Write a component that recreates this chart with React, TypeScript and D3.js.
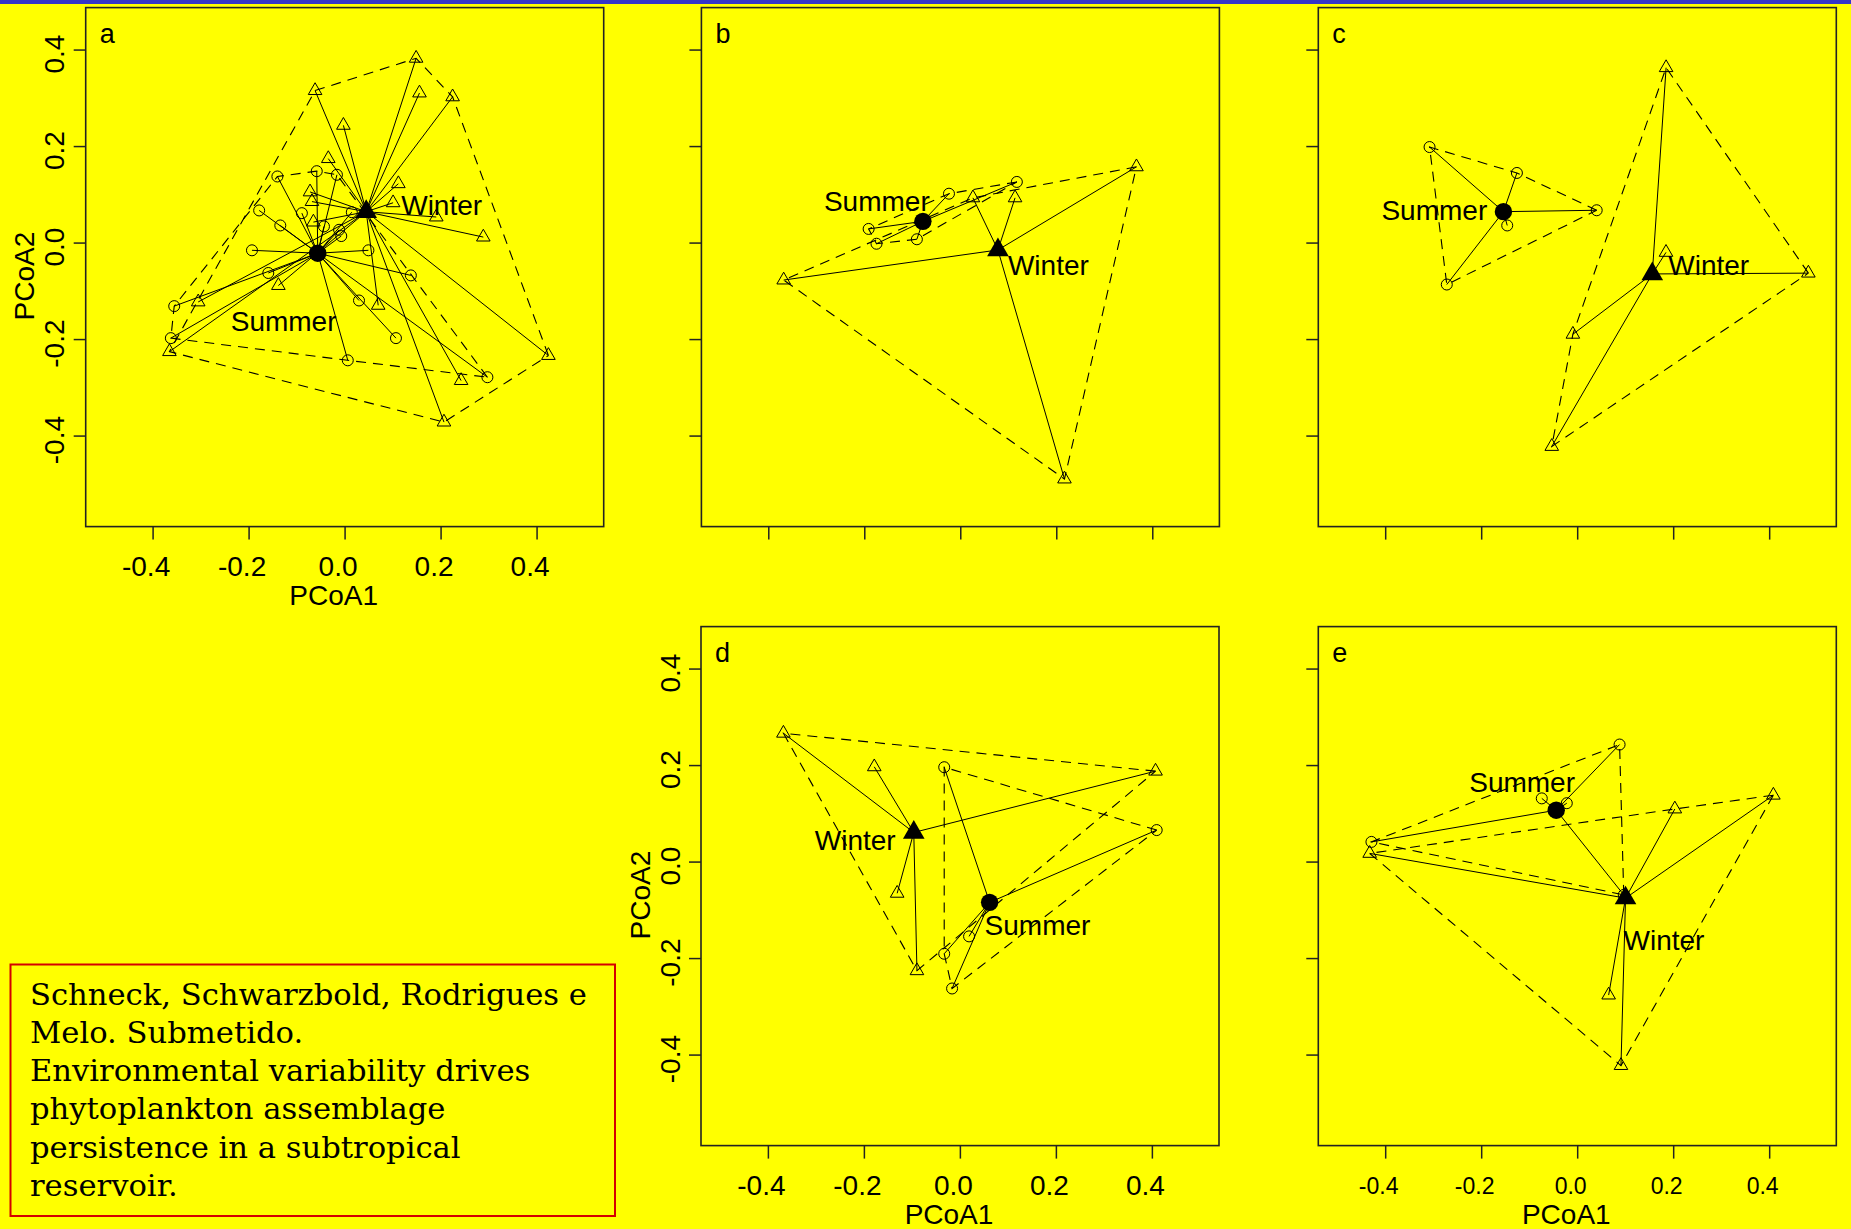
import React, { useEffect } from 'react';
import * as d3 from 'd3';

type Pt = [number, number];

// ---------- shared axis data ----------
const TICKS = [-0.4, -0.2, 0, 0.2, 0.4];
const TICK_LABELS = ['-0.4', '-0.2', '0.0', '0.2', '0.4'];
const GROUP_LABELS = ['Summer', 'Winter'];
const X_TITLE = 'PCoA1';
const Y_TITLE = 'PCoA2';

// ---------- panel a ----------
const aSummer: Pt[] = [
  [-0.141, 0.138], [-0.059, 0.149], [-0.017, 0.1415], [-0.179, 0.0676], [-0.09, 0.062],
  [0.014, 0.064], [-0.135, 0.0365], [-0.044, 0.0345], [-0.0125, 0.0275], [-0.008, 0.0145],
  [-0.194, -0.015], [0.0486, -0.015], [-0.16, -0.062], [0.137, -0.067], [0.029, -0.119],
  [-0.356, -0.1307], [0.106, -0.197], [-0.363, -0.197], [0.0056, -0.243], [0.2965, -0.278],
];
const aWinter: Pt[] = [
  [0.148, 0.383], [-0.0625, 0.316], [0.155, 0.311], [0.224, 0.303], [-0.0035, 0.244],
  [-0.035, 0.175], [0.111, 0.123], [-0.073, 0.106], [-0.069, 0.086], [0.1, 0.0835],
  [-0.066, 0.0435], [0.19, 0.054], [0.288, 0.0124], [-0.139, -0.088], [-0.306, -0.122],
  [0.069, -0.129], [-0.366, -0.225], [0.4236, -0.233], [0.2417, -0.285], [0.206, -0.371],
];
const aSummerCentroid: Pt = [-0.057, -0.021];
const aWinterCentroid: Pt = [0.044, 0.065];

// ---------- panel b ----------
const bSummer: Pt[] = [
  [-0.192, 0.0293], [-0.1756, -0.0014], [-0.0915, 0.0079], [-0.0246, 0.1023], [0.1168, 0.1267],
];
const bWinter: Pt[] = [
  [-0.369, -0.0766], [0.0253, 0.0937], [0.1131, 0.0937], [0.366, 0.158], [0.216, -0.489],
];
const bSummerCentroid: Pt = [-0.0789, 0.045];
const bWinterCentroid: Pt = [0.0774, -0.0143];

// ---------- panel c ----------
const cSummer: Pt[] = [
  [-0.3086, 0.199], [-0.1266, 0.1453], [0.0396, 0.068], [-0.1468, 0.0365], [-0.2727, -0.0859],
];
const cWinter: Pt[] = [
  [0.1842, 0.3635], [0.184, -0.0193], [0.4806, -0.0623], [-0.01, -0.189], [-0.054, -0.4215],
];
const cSummerCentroid: Pt = [-0.1547, 0.0651];
const cWinterCentroid: Pt = [0.1554, -0.064];

// ---------- panel d ----------
const dSummer: Pt[] = [
  [-0.0337, 0.1966], [0.409, 0.0663], [0.0181, -0.154], [-0.0337, -0.19], [-0.0173, -0.262],
];
const dWinter: Pt[] = [
  [-0.3687, 0.267], [-0.1794, 0.1974], [0.4066, 0.1884], [-0.1317, -0.0647], [-0.0905, -0.2252],
];
const dSummerCentroid: Pt = [0.0609, -0.0835];
const dWinterCentroid: Pt = [-0.0971, 0.0614];

// ---------- panel e ----------
const eSummer: Pt[] = [
  [0.0873, 0.2436], [-0.0748, 0.132], [-0.0227, 0.122], [-0.4297, 0.0418], [0.096, -0.068],
];
const eWinter: Pt[] = [
  [-0.4334, 0.018], [0.2024, 0.11], [0.4077, 0.1386], [0.0645, -0.2756], [0.0902, -0.4217],
];
const eSummerCentroid: Pt = [-0.0447, 0.1075];
const eWinterCentroid: Pt = [0.0997, -0.0747];

// ---------- note text ----------
const NOTE_LINES = [
  'Schneck, Schwarzbold, Rodrigues e',
  'Melo. Submetido.',
  'Environmental variability drives',
  'phytoplankton assemblage',
  'persistence in a subtropical',
  'reservoir.',
];

// ---------- layout (positions / styles) ----------
const W = 1851;
const H = 1229;
const FRAME_W = 518;
const FRAME_H = 519;
const X_DOMAIN: [number, number] = [-0.5404, 0.5388];
const Y_DOMAIN: [number, number] = [-0.5876, 0.488];
const SANS = '"Liberation Sans", Arial, Helvetica, sans-serif';
const SERIF = '"DejaVu Serif", serif';
const BG = '#ffff00';

interface PanelLayout {
  id: string;
  left: number;
  top: number;
  xLabels: boolean;
  yLabels: boolean;
  xTickFont: number;
  summerLabel: [number, number]; // px offset of text start / baseline from centroid
  winterLabel: [number, number];
}

const LAYOUTS: PanelLayout[] = [
  { id: 'a', left: 85.7, top: 7.6, xLabels: true, yLabels: true, xTickFont: 28, summerLabel: [-87, 78], winterLabel: [35, 3] },
  { id: 'b', left: 701.4, top: 7.6, xLabels: false, yLabels: false, xTickFont: 28, summerLabel: [-99, -10], winterLabel: [10, 25] },
  { id: 'c', left: 1318.3, top: 7.6, xLabels: false, yLabels: false, xTickFont: 28, summerLabel: [-122, 8], winterLabel: [16, 1] },
  { id: 'd', left: 701, top: 626.6, xLabels: true, yLabels: true, xTickFont: 28, summerLabel: [-5, 33], winterLabel: [-99, 18] },
  { id: 'e', left: 1318.3, top: 626.6, xLabels: true, yLabels: false, xTickFont: 23, summerLabel: [-87, -18], winterLabel: [-2, 52] },
];

const PANEL_DATA = [
  { summer: aSummer, winter: aWinter, sc: aSummerCentroid, wc: aWinterCentroid },
  { summer: bSummer, winter: bWinter, sc: bSummerCentroid, wc: bWinterCentroid },
  { summer: cSummer, winter: cWinter, sc: cSummerCentroid, wc: cWinterCentroid },
  { summer: dSummer, winter: dWinter, sc: dSummerCentroid, wc: dWinterCentroid },
  { summer: eSummer, winter: eWinter, sc: eSummerCentroid, wc: eWinterCentroid },
];

function triPath(cx: number, cy: number, half: number): string {
  const up = half * 1.1547;
  const down = half * 0.5774;
  return `M${cx},${cy - up}L${cx + half},${cy + down}L${cx - half},${cy + down}Z`;
}

function Panel({ layout, data }: { layout: PanelLayout; data: typeof PANEL_DATA[number] }) {
  const x = d3.scaleLinear().domain(X_DOMAIN).range([layout.left, layout.left + FRAME_W]);
  const y = d3.scaleLinear().domain(Y_DOMAIN).range([layout.top + FRAME_H, layout.top]);
  const sPx = data.summer.map((p) => [x(p[0]), y(p[1])] as [number, number]);
  const wPx = data.winter.map((p) => [x(p[0]), y(p[1])] as [number, number]);
  const hullS = d3.polygonHull(sPx) || [];
  const hullW = d3.polygonHull(wPx) || [];
  const line = d3.line();
  const scx = x(data.sc[0]);
  const scy = y(data.sc[1]);
  const wcx = x(data.wc[0]);
  const wcy = y(data.wc[1]);
  const bottom = layout.top + FRAME_H;
  const cy = layout.top + FRAME_H / 2;
  const cx = layout.left + FRAME_W / 2;
  const clipId = `clip-${layout.id}`;

  return (
    <g>
      <defs>
        <clipPath id={clipId}>
          <rect x={layout.left} y={layout.top} width={FRAME_W} height={FRAME_H} />
        </clipPath>
      </defs>
      <g clipPath={`url(#${clipId})`}>
        <path d={line([...hullS, hullS[0]] as any) || ''} fill="none" stroke="#000" strokeWidth={1.1} strokeDasharray="10,7" />
        <path d={line([...hullW, hullW[0]] as any) || ''} fill="none" stroke="#000" strokeWidth={1.1} strokeDasharray="10,7" />
        {sPx.map((p, i) => (
          <line key={`ss${i}`} x1={scx} y1={scy} x2={p[0]} y2={p[1]} stroke="#000" strokeWidth={1} />
        ))}
        {wPx.map((p, i) => (
          <line key={`ws${i}`} x1={wcx} y1={wcy} x2={p[0]} y2={p[1]} stroke="#000" strokeWidth={1} />
        ))}
        {sPx.map((p, i) => (
          <circle key={`sp${i}`} cx={p[0]} cy={p[1]} r={5.5} fill="none" stroke="#000" strokeWidth={1} />
        ))}
        {wPx.map((p, i) => (
          <path key={`wp${i}`} d={triPath(p[0], p[1], 6.8)} fill="none" stroke="#000" strokeWidth={1} />
        ))}
        <circle cx={scx} cy={scy} r={8.7} fill="#000" />
        <path d={triPath(wcx, wcy, 10.8)} fill="#000" />
        <text x={scx + layout.summerLabel[0]} y={scy + layout.summerLabel[1]} fontFamily={SANS} fontSize={28} fill="#000">
          {GROUP_LABELS[0]}
        </text>
        <text x={wcx + layout.winterLabel[0]} y={wcy + layout.winterLabel[1]} fontFamily={SANS} fontSize={28} fill="#000">
          {GROUP_LABELS[1]}
        </text>
      </g>
      <rect x={layout.left} y={layout.top} width={FRAME_W} height={FRAME_H} fill="none" stroke="#222" strokeWidth={1.6} />
      <text x={layout.left + 14} y={layout.top + 35} fontFamily={SANS} fontSize={27} fill="#000">{layout.id}</text>
      {TICKS.map((t, i) => (
        <line key={`xt${i}`} x1={x(t)} x2={x(t)} y1={bottom} y2={bottom + 13} stroke="#222" strokeWidth={1.5} />
      ))}
      {TICKS.map((t, i) => (
        <line key={`yt${i}`} x1={layout.left} x2={layout.left - 12} y1={y(t)} y2={y(t)} stroke="#222" strokeWidth={1.5} />
      ))}
      {layout.xLabels && (
        <g fontFamily={SANS} fill="#000">
          {TICKS.map((t, i) => (
            <text key={`xl${i}`} x={x(t) - 7} y={bottom + 40} fontSize={layout.xTickFont} textAnchor="middle" dominantBaseline="central">
              {TICK_LABELS[i]}
            </text>
          ))}
          <text x={cx - 11} y={bottom + 69} fontSize={28} textAnchor="middle" dominantBaseline="central">{X_TITLE}</text>
        </g>
      )}
      {layout.yLabels && (
        <g fontFamily={SANS} fill="#000">
          {TICKS.map((t, i) => (
            <text key={`yl${i}`} transform={`translate(${layout.left - 31},${y(t) + 4}) rotate(-90)`} fontSize={28} textAnchor="middle" dominantBaseline="central">
              {TICK_LABELS[i]}
            </text>
          ))}
          <text transform={`translate(${layout.left - 61},${cy + 9}) rotate(-90)`} fontSize={28} textAnchor="middle" dominantBaseline="central">
            {Y_TITLE}
          </text>
        </g>
      )}
    </g>
  );
}

export default function App() {
  useEffect(() => {
    document.body.style.margin = '0';
    document.body.style.background = BG;
  }, []);
  return (
    <svg
      width={W}
      height={H}
      viewBox={`0 0 ${W} ${H}`}
      style={{ position: 'fixed', left: 0, top: 0, display: 'block' }}
    >
      <rect x={0} y={0} width={W} height={H} fill={BG} />
      <rect x={0} y={0} width={W} height={4} fill="#3535c8" />
      {LAYOUTS.map((l, i) => (
        <Panel key={l.id} layout={l} data={PANEL_DATA[i]} />
      ))}
      <rect x={10.5} y={964.5} width={604.5} height={251.5} fill="none" stroke="#d40000" strokeWidth={2} />
      <g fontFamily={SERIF} fontSize={30.6} fill="#000">
        {NOTE_LINES.map((s, i) => (
          <text key={i} x={30} y={1004.5 + i * 38.3}>{s}</text>
        ))}
      </g>
    </svg>
  );
}
